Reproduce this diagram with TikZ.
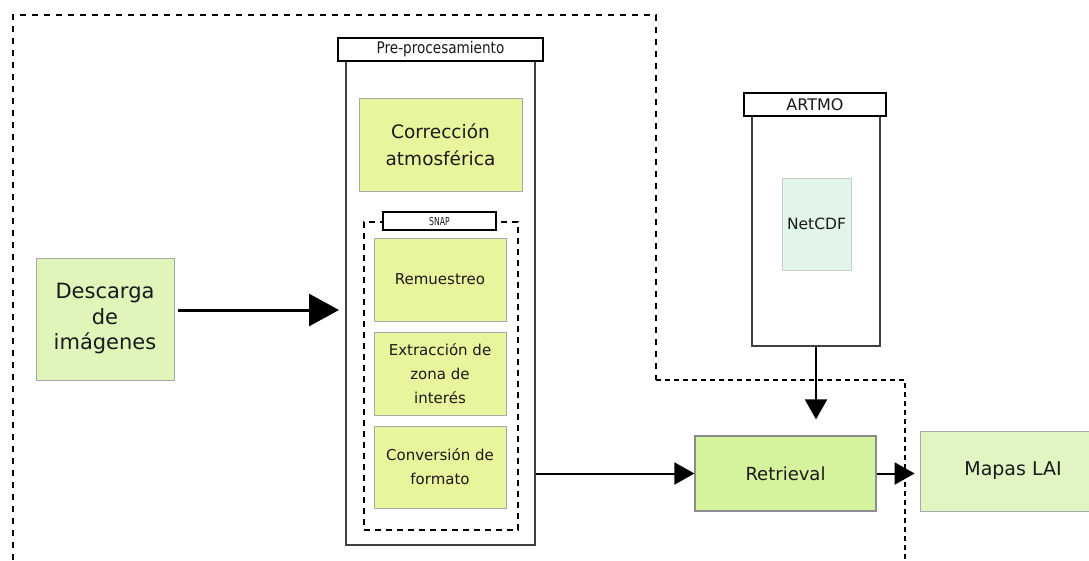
\documentclass[tikz,border=0pt]{standalone}
\usepackage{fontspec}
\setmainfont{DejaVu Sans}
\newfontfamily\narrowfont{DejaVu Sans}[FakeStretch=0.85]
\newfontfamily\tinyfont{DejaVu Sans}[FakeStretch=0.7]
\usetikzlibrary{arrows.meta,positioning}
\definecolor{stepfill}{HTML}{E8F59C}
\definecolor{startfill}{HTML}{DFF5BA}
\definecolor{retrfill}{HTML}{D5F29D}
\definecolor{mapfill}{HTML}{E0F5C2}
\definecolor{cdffill}{HTML}{E1F5E8}
\definecolor{boxline}{HTML}{A8A8A8}
\definecolor{txt}{HTML}{1A1A1A}

\tikzset{
  block/.style={draw=boxline, line width=0.8pt, text=txt, align=center, inner sep=2pt},
  header/.style={draw=black, line width=1.5pt, fill=white, text=txt},
  frame/.style={draw=black!75, line width=2pt},
  arr/.style={line width=2pt, -{Triangle[length=20pt, width=22pt]}},
}

\begin{document}
\begin{tikzpicture}[x=1pt, y=-1pt]
\useasboundingbox (0,0) rectangle (1089,560);
%%%%%%%%% outer dashed region
\draw [line width=2.2pt, dash pattern=on 6pt off 6pt] (13,560) -- (13,15) -- (656,15) -- (656,380);
\draw [line width=1.6pt, dash pattern=on 5pt off 4pt] (656,380) -- (905,380) -- (905,560);
%%%%%%%%% start
\node [block, fill=startfill, minimum width=138pt, minimum height=122pt, font=\fontsize{21}{25.5}\selectfont] (desc) at (105,319) {\raisebox{-4pt}{\parbox{130pt}{\centering Descarga\\de\\imágenes}}};
%%%%%%%%% pre-processing
\node [frame, minimum width=189pt, minimum height=484pt] (pre) at (440.5,303) {};
\node [header, minimum width=205pt, minimum height=23pt, font=\narrowfont\fontsize{16}{18}\selectfont] (prehead) at (440.5,49.5) {Pre-procesamiento};
\node [block, fill=stepfill, minimum width=163pt, minimum height=93pt, font=\fontsize{18.5}{27}\selectfont] (atm) at (440.5,144.5) {Corrección\\atmosférica};
\node [draw=black, line width=2pt, dash pattern=on 6pt off 5pt, minimum width=154pt, minimum height=308pt] (snap) at (441,376) {};
\node [header, line width=1.2pt, minimum width=113pt, minimum height=18pt, font=\tinyfont\fontsize{11}{12}\selectfont] (snaphead) at (439.5,221) {SNAP};
\node [block, fill=stepfill, minimum width=132pt, minimum height=83pt, font=\fontsize{15}{21}\selectfont] (resamp) at (440,279.5) {Remuestreo};
\node [block, fill=stepfill, minimum width=132pt, minimum height=83pt, font=\fontsize{15}{24}\selectfont] (subset) at (440,373.5) {Extracción de\\zona de\\interés};
\node [block, fill=stepfill, minimum width=132pt, minimum height=82pt, font=\fontsize{15}{24}\selectfont] (conv) at (440,467) {Conversión de\\formato};
%%%%%%%%% ARTMO
\node [frame, minimum width=128pt, minimum height=230pt] (artmo) at (816,231) {};
\node [header, minimum width=142pt, minimum height=23pt, font=\fontsize{16}{18}\selectfont] (artmohead) at (815,104.5) {ARTMO};
\node [block, draw=black!20, fill=cdffill, minimum width=69pt, minimum height=92pt, font=\fontsize{15.5}{18}\selectfont] (netcdf) at (816.5,224) {NetCDF};
%%%%%%%%% retrieval and output
\node [block, draw=black!45, line width=1.2pt, fill=retrfill, minimum width=181pt, minimum height=75pt, font=\fontsize{18}{20}\selectfont] (retr) at (785.5,473.5) {Retrieval};
\node [block, fill=mapfill, minimum width=186pt, minimum height=80pt, font=\fontsize{19}{20}\selectfont] (maps) at (1013,471) {Mapas LAI};
%%%%%%%%% connectors
\draw [line width=3pt, -{Triangle[length=30pt, width=32pt]}, shorten <=4pt, shorten >=6pt] ([yshift=9pt]desc.east) -- ([yshift=9pt]desc.east -| pre.west);
\draw [arr] (pre.east |- retr.west) -- (retr.west);
\draw [arr, shorten >=16pt] (artmo.south) -- (artmo.south |- retr.north);
\draw [arr, shorten >=5pt] (retr.east) -- (retr.east -| maps.west);
\end{tikzpicture}
\end{document}
